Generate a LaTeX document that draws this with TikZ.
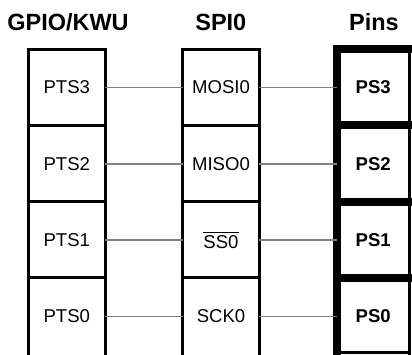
\documentclass[tikz,border=0pt]{standalone}
\usepackage{amsmath}
\usepackage{fontspec}
\setmainfont{Liberation Sans}
\usepackage{tikz}
\usetikzlibrary{positioning}
\definecolor{wireGray}{RGB}{128, 128, 128}
\tikzset{
    base/.style={
        font=\fontsize{13.2}{15}\selectfont,
        align=center
    },
    cell/.style={
        base,
        rectangle,
        minimum width=1.9cm,
        minimum height=1.905cm,
        inner sep=0pt
    },
    pin/.style={
        cell,
        minimum width=1.8125cm,
        font=\fontsize{13.2}{15}\selectfont\bfseries
    },
    header/.style={
        font=\fontsize{16.7}{19}\selectfont\bfseries,
        anchor=base,
        inner sep=0pt
    },
    frame/.style={
        line width=0.075cm,
        black
    },
    pinframe/.style={
        line width=0.2cm,
        black
    },
    wire/.style={
        line width=0.035cm,
        color=wireGray
    }
}

\begin{document}
\begin{tikzpicture}
    \useasboundingbox (0,0) rectangle (10.3,-8.85);

    % Headers
    \node[header] (hgpio) at (1.7,-0.7675) {GPIO/KWU};
    \node[header] (hspi) at (5.52,-0.7675) {SPI0};
    \node[header] (hpins) at (9.35,-0.7675) {Pins};

    % GPIO/KWU cells
    \node[cell] (pts3) at (1.67,-2.19) {PTS3};
    \node[cell] (pts2) at (1.67,-4.095) {PTS2};
    \node[cell] (pts1) at (1.67,-6.0) {PTS1};
    \node[cell] (pts0) at (1.67,-7.905) {PTS0};

    % SPI0 cells
    \node[cell] (mosi) at (5.525,-2.19) {MOSI0};
    \node[cell] (miso) at (5.525,-4.095) {MISO0};
    \node[cell] (ss) at (5.525,-6.0) {$\overline{\text{SS0}}$};
    \node[cell] (sck) at (5.525,-7.905) {SCK0};

    % Pin cells
    \node[pin] (ps3) at (9.33,-2.19) {PS3};
    \node[pin] (ps2) at (9.33,-4.095) {PS2};
    \node[pin] (ps1) at (9.33,-6.0) {PS1};
    \node[pin] (ps0) at (9.33,-7.905) {PS0};

    % Column frames
    \draw[frame] ([yshift=-1cm]pts0.south west) -- (pts3.north west) -- (pts3.north east) -- ([yshift=-1cm]pts0.south east);
    \draw[frame] (pts2.north west) -- (pts2.north east);
    \draw[frame] (pts1.north west) -- (pts1.north east);
    \draw[frame] (pts0.north west) -- (pts0.north east);

    \draw[frame] ([yshift=-1cm]sck.south west) -- (mosi.north west) -- (mosi.north east) -- ([yshift=-1cm]sck.south east);
    \draw[frame] ([xshift=-0.05cm]miso.north west) -- (miso.north east);
    \draw[frame] ([xshift=-0.05cm]ss.north west) -- (ss.north east);
    \draw[frame] ([xshift=-0.05cm]sck.north west) -- (sck.north east);

    % Pin frames
    \draw[frame] (ps3.north east) -- ([yshift=-1cm]ps0.south east);
    \draw[frame] ([yshift=0.045cm]ps0.south west) -- ([yshift=0.045cm]ps0.south east);
    \draw[pinframe, line cap=rect] ([yshift=-1cm]ps0.south west) -- (ps3.north west);
    \draw[pinframe, line cap=rect] (ps3.north west) -- (ps3.north east);
    \draw[pinframe, line cap=rect] (ps2.north west) -- (ps2.north east);
    \draw[pinframe, line cap=rect] (ps1.north west) -- (ps1.north east);
    \draw[pinframe, line cap=rect] (ps0.north west) -- (ps0.north east);

    % Connections
    \draw[wire] (pts3) -- (mosi);
    \draw[wire] (pts2) -- (miso);
    \draw[wire] (pts1) -- (ss);
    \draw[wire] (pts0) -- (sck);
    \draw[wire] (mosi) -- (ps3);
    \draw[wire] (miso) -- (ps2);
    \draw[wire] (ss) -- (ps1);
    \draw[wire] (sck) -- (ps0);
\end{tikzpicture}
\end{document}
